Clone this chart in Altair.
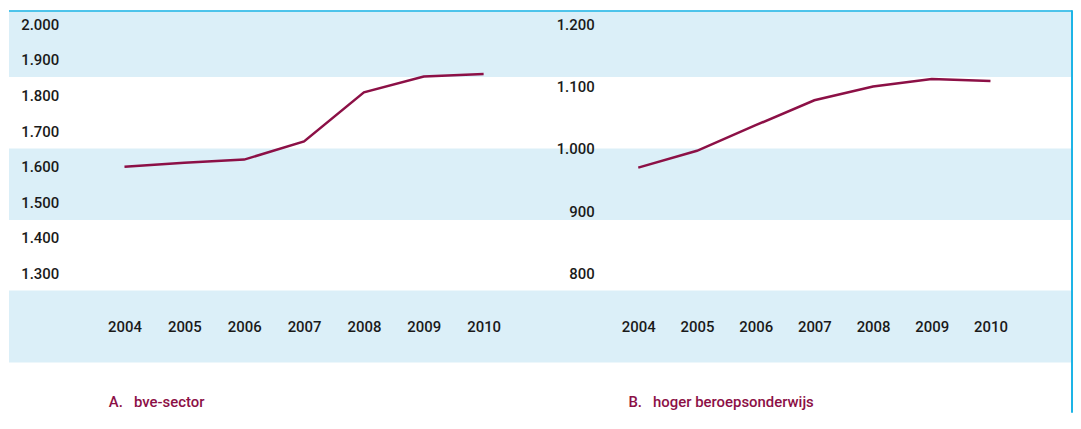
import altair as alt
import pandas as pd

# ---- data ----
years = [2004, 2005, 2006, 2007, 2008, 2009, 2010]
bve_values = [1600, 1611, 1620, 1671, 1809, 1853, 1860]
hbo_values = [970, 997, 1038, 1078, 1100, 1112, 1109]
bve_ticks = [1300, 1400, 1500, 1600, 1700, 1800, 1900, 2000]
hbo_ticks = [800, 900, 1000, 1100, 1200]
panel_titles = ["A.\u00a0\u00a0 bve-sector", "B.\u00a0\u00a0 hoger beroepsonderwijs"]

LINE = "#8c1046"
BAND = "#dbeff8"
BORDER = "#1cb4e6"
FONT = "Roboto"
LABEL_EXPR = "replace(format(datum.value, ','), ',', '.')"

bve_df = pd.DataFrame({"year": years, "value": bve_values})
hbo_df = pd.DataFrame({"year": years, "value": hbo_values})

one = alt.Data(values=[{"k": 0}])
RIGHT_EDGE = 1014


def decoration():
    layers = []
    for y0, y1 in [(-14, 53), (125, 197), (268, 340.5)]:
        layers.append(
            alt.Chart(one).mark_rect(color=BAND).encode(
                x=alt.value(-56), x2=alt.value(RIGHT_EDGE),
                y=alt.value(y0), y2=alt.value(y1)
            )
        )
    layers.append(
        alt.Chart(one).mark_rule(color=BORDER, strokeWidth=1.5).encode(
            x=alt.value(-56), x2=alt.value(RIGHT_EDGE), y=alt.value(-13.25)
        )
    )
    layers.append(
        alt.Chart(one).mark_rule(color=BORDER, strokeWidth=2).encode(
            x=alt.value(RIGHT_EDGE), y=alt.value(-14), y2=alt.value(391)
        )
    )
    return layers


def panel(df, ticks, ydomain, xdomain, title, title_x):
    return alt.Chart(df).mark_line(color=LINE, strokeWidth=2.5).encode(
        x=alt.X(
            "year:Q",
            scale=alt.Scale(domain=xdomain, nice=False, zero=False),
            axis=alt.Axis(
                values=years, format="d", title=title, zindex=2,
                labelPadding=46, labelBaseline="top",
                titleX=title_x, titleY=129, titleAlign="left",
                titleAnchor="start", titleBaseline="middle",
                titleColor=LINE, titleFont=FONT, titleFontSize=15,
                titleFontWeight=500,
            ),
        ),
        y=alt.Y(
            "value:Q",
            scale=alt.Scale(domain=ydomain, nice=False, zero=False),
            axis=alt.Axis(values=ticks, labelExpr=LABEL_EXPR, title=None,
                          labelPadding=6, zindex=2),
        ),
    )


bve_line = panel(bve_df, bve_ticks, [1300, 2000], [2003, 2011],
                 panel_titles[0], 44)
hbo_line = panel(hbo_df, hbo_ticks, [800, 1200], [2003.35, 2011],
                 panel_titles[1], 28)

left = alt.layer(*decoration(), bve_line).properties(width=482, height=251)
right = alt.layer(hbo_line).properties(width=452, height=251)

chart = alt.hconcat(left, right, spacing=57, bounds="flush").properties(
    padding=0
).configure_view(stroke=None).configure_axis(
    grid=False, domain=False, ticks=False, tickSize=0,
    labelFont=FONT, labelFontSize=15, labelFontWeight=500,
    labelColor="#1a1a1a",
)

chart.save("out.html", embed_options={"renderer": "svg", "actions": False})
